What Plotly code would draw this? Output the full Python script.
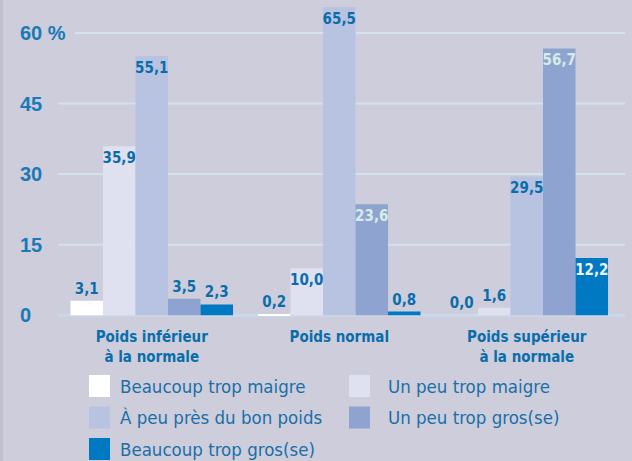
import plotly.graph_objects as go

categories = ["Poids inférieur<br>à la normale", "Poids normal", "Poids supérieur<br>à la normale"]
series_names = ["Beaucoup trop maigre", "Un peu trop maigre", "À peu près du bon poids",
                "Un peu trop gros(se)", "Beaucoup trop gros(se)"]
beaucoup_trop_maigre = [3.1, 0.2, 0.0]
un_peu_trop_maigre = [35.9, 10.0, 1.6]
a_peu_pres_bon_poids = [55.1, 65.5, 29.5]
un_peu_trop_gros = [3.5, 23.6, 56.7]
beaucoup_trop_gros = [2.3, 0.8, 12.2]
series_values = [beaucoup_trop_maigre, un_peu_trop_maigre, a_peu_pres_bon_poids,
                 un_peu_trop_gros, beaucoup_trop_gros]
y_ticks = [0, 15, 30, 45, 60]
y_tick_labels = ["0", "15", "30", "45", "60 %"]

colors = ["#ffffff", "#dfe0f0", "#b8c3e2", "#8fa3d1", "#0079c2"]
inside_text_colors = ["#0a6dab", "#0a6dab", "#0a6dab", "#d6ece6", "#eef4f8"]
DARK = "#0a6dab"
AXIS_BLUE = "#1a79b9"
NARROW = "DejaVu Sans Condensed, sans-serif"
BG = "#cdcddb"

W, H = 632, 461
ML, MR, MT, MB = 58, 7, 0, 141
PW, PH = W - ML - MR, H - MT - MB

def px_to_paper_x(px):
    return (px - ML) / PW

def px_to_paper_y(py):
    return (H - MB - py) / PH

fig = go.Figure()
for name, vals, col, itc in zip(series_names, series_values, colors, inside_text_colors):
    fig.add_trace(go.Bar(
        name=name, x=categories, y=vals,
        marker=dict(color=col, line=dict(width=0)),
        texttemplate="%{y:.1f}",
        textposition=["inside" if v >= 8 else "outside" for v in vals],
        insidetextanchor="end",
        textangle=0,
        insidetextfont=dict(family=NARROW, size=15, color=itc, weight="bold"),
        outsidetextfont=dict(family=NARROW, size=15, color=DARK, weight="bold"),
        cliponaxis=False,
        showlegend=False,
        hoverinfo="skip",
    ))

shapes = []
annotations = []
# left edge shading
shapes.append(dict(type="rect", xref="paper", yref="paper",
                   x0=px_to_paper_x(0), x1=px_to_paper_x(3), y0=px_to_paper_y(H), y1=px_to_paper_y(0),
                   fillcolor="#c0bfcf", line=dict(width=0), layer="below"))
# gridlines + y labels
for t, lab in zip(y_ticks, y_tick_labels):
    x0 = px_to_paper_x(75) if lab.endswith("%") else 0
    shapes.append(dict(type="line", xref="paper", yref="y", x0=x0, x1=1, y0=t, y1=t,
                       line=dict(color="#d3e1f0" if t else "#c9d8ea", width=2 if t else 3), layer="below"))
    annotations.append(dict(xref="paper", yref="y", x=px_to_paper_x(18), y=t, text=lab,
                            xanchor="left", yanchor="middle", showarrow=False,
                            font=dict(family="Liberation Sans, Arial, sans-serif", size=20,
                                      color=AXIS_BLUE, weight="bold")))

# manual legend
leg_cols_swatch = [89, 349]
leg_cols_text = [118, 386]
row_top0, row_step = 375, 31.5
for i, (name, col) in enumerate(zip(series_names, colors)):
    r, c = divmod(i, 2)
    top = row_top0 + r * row_step
    shapes.append(dict(type="rect", xref="paper", yref="paper",
                       x0=px_to_paper_x(leg_cols_swatch[c]), x1=px_to_paper_x(leg_cols_swatch[c] + 21),
                       y0=px_to_paper_y(top + 22), y1=px_to_paper_y(top),
                       fillcolor=col, line=dict(width=0)))
    annotations.append(dict(xref="paper", yref="paper", x=px_to_paper_x(leg_cols_text[c]),
                            y=px_to_paper_y(top + 11), text=name, xanchor="left", yanchor="middle",
                            showarrow=False,
                            font=dict(family=NARROW, size=18.5, color="#1a6fa8")))

fig.update_layout(
    width=W, height=H,
    margin=dict(l=ML, r=MR, t=MT, b=MB),
    paper_bgcolor=BG, plot_bgcolor=BG,
    barmode="group", bargap=0.133, bargroupgap=0,
    separators=", ",
    uniformtext=dict(minsize=15, mode="show"),
    shapes=shapes, annotations=annotations,
    showlegend=False,
    hovermode=False,
    xaxis=dict(range=[-0.5, 2.524], showgrid=False, zeroline=False, showline=False,
               ticks="", tickfont=dict(family=NARROW, size=15, color=DARK, weight="bold"),
               ticklabelstandoff=6),
    yaxis=dict(range=[-1, 67], showgrid=False, zeroline=False, showticklabels=False, showline=False),
)

fig.write_html("out.html", config={"displayModeBar": False},
               post_script="document.body.style.margin='0px';")
